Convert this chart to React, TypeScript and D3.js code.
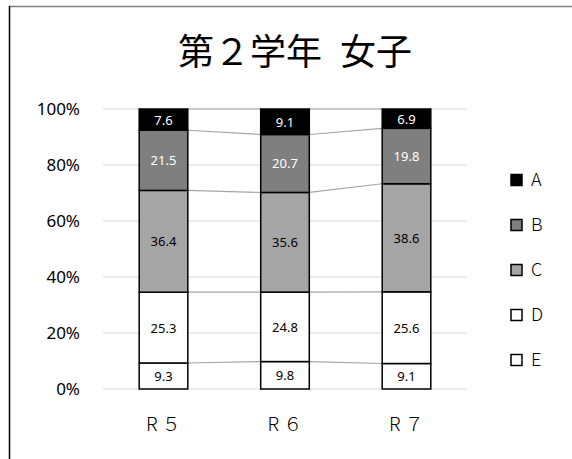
import React from "react";
import * as d3 from "d3";

const categories = ["R５", "R６", "R７"];
const seriesNames = ["E", "D", "C", "B", "A"];
const valuesE = [9.3, 9.8, 9.1];
const valuesD = [25.3, 24.8, 25.6];
const valuesC = [36.4, 35.6, 38.6];
const valuesB = [21.5, 20.7, 19.8];
const valuesA = [7.6, 9.1, 6.9];
const tickValues = [0, 0.2, 0.4, 0.6, 0.8, 1];
const titleLeft = "第２学年";
const titleRight = "女子";

const fills: Record<string, string> = { A: "#000000", B: "#7f7f7f", C: "#a5a5a5", D: "#ffffff", E: "#ffffff" };
const labelColors: Record<string, string> = { A: "#ffffff", B: "#ffffff", C: "#000000", D: "#000000", E: "#000000" };

export default function App() {
  const W = 572, H = 459;
  const seriesValues: Record<string, number[]> = { E: valuesE, D: valuesD, C: valuesC, B: valuesB, A: valuesA };
  const rows = categories.map((c, i) => {
    const r: any = { cat: c };
    let total = 0;
    seriesNames.forEach((s) => (total += seriesValues[s][i]));
    seriesNames.forEach((s) => (r[s] = seriesValues[s][i] / total));
    return r;
  });
  const stack = d3.stack<any>().keys(seriesNames);
  const stacked = stack(rows);

  const x = d3.scaleBand<string>().domain(categories).range([102.75, 467.25]).paddingInner(0.6).paddingOuter(0.3);
  const y = d3.scaleLinear().domain([0, 1]).range([389, 109]);
  const bw = x.bandwidth();

  const legendOrder = ["A", "B", "C", "D", "E"];
  const legendY = d3.scalePoint<string>().domain(legendOrder).range([180, 360]);

  const tickFont = "'Noto Sans', 'Open Sans', sans-serif";

  return (
    <svg width={W} height={H} style={{ position: "absolute", left: 0, top: 0, background: "#fff" }}>
      <rect x={0} y={0} width={W} height={H} fill="#fff" />
      <line x1={9} x2={W} y1={6.5} y2={6.5} stroke="#7f7f7f" strokeWidth={1.5} />
      <line x1={9.5} x2={9.5} y1={6} y2={H} stroke="#000" strokeWidth={1.5} />
      <text x={295} y={65} textAnchor="middle" fontSize={36} fontFamily="'Noto Sans CJK JP', sans-serif" fill="#000">
        {titleLeft}
        <tspan dx={18}>{titleRight}</tspan>
      </text>
      {tickValues.map((t) => (
        <g key={t}>
          <line x1={102.75} x2={467.25} y1={y(t)} y2={y(t)} stroke="#d9d9d9" strokeWidth={1.2} />
          <text x={80} y={y(t)} dy="0.35em" textAnchor="end" fontSize={17} fontFamily={tickFont} fill="#000">
            {d3.format(".0%")(t)}
          </text>
        </g>
      ))}
      {stacked.map((layer) =>
        categories.slice(0, -1).map((c, i) => {
          const next = categories[i + 1];
          return (
            <line key={layer.key + c} x1={(x(c) as number) + bw} x2={x(next) as number}
              y1={y(layer[i][1])} y2={y(layer[i + 1][1])} stroke="#a6a6a6" strokeWidth={1.2} />
          );
        })
      )}
      {stacked.map((layer) => (
        <g key={layer.key}>
          {layer.map((d, i) => (
            <g key={i}>
              <rect x={x(categories[i])} y={y(d[1])} width={bw} height={y(d[0]) - y(d[1])}
                fill={fills[layer.key]} stroke="#000" strokeWidth={1.5} />
              <text x={(x(categories[i]) as number) + bw / 2} y={(y(d[0]) + y(d[1])) / 2} dy="0.38em"
                textAnchor="middle" fontSize={13} fontFamily={tickFont} fill={labelColors[layer.key]}>
                {seriesValues[layer.key][i].toFixed(1)}
              </text>
            </g>
          ))}
        </g>
      ))}
      {categories.map((c) => (
        <text key={c} x={(x(c) as number) + bw / 2} y={424} dy="0.35em" textAnchor="middle" fontSize={19}
          fontFamily="'Noto Sans CJK JP', sans-serif" fontWeight={300} fill="#000">
          {c.replace("R", "R ")}
        </text>
      ))}
      {legendOrder.map((s) => (
        <g key={s}>
          <rect x={511} y={(legendY(s) as number) - 5.5} width={11} height={11} fill={fills[s]} stroke="#000" strokeWidth={1.5} />
          <text x={531} y={legendY(s) as number} dy="0.35em" fontSize={18} fontFamily="'Noto Sans CJK JP', sans-serif" fontWeight={300} fill="#000">
            {s}
          </text>
        </g>
      ))}
    </svg>
  );
}
